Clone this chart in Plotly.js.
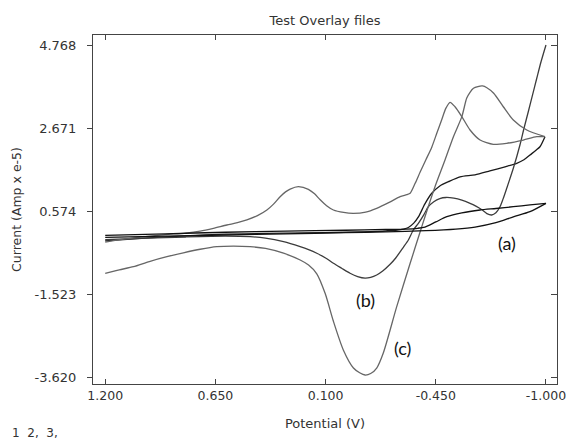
<!DOCTYPE html>
<html>
<head>
<meta charset="utf-8">
<script src="https://cdn.plot.ly/plotly-3.0.1.min.js"></script>
<style>html,body{margin:0;padding:0;background:#fff;}#chart{width:566px;height:440px;}</style>
</head>
<body>
<div id="chart"></div>
<script>
// Tick labels
const xTickVals = [1.2, 0.65, 0.1, -0.45, -1.0];
const xTickText = ['1.200', '0.650', '0.100', '-0.450', '-1.000'];
const yTickVals = [4.768, 2.671, 0.574, -1.523, -3.62];
const yTickText = ['4.768', '2.671', '0.574', '-1.523', '-3.620'];

// Curve (c): negative-going scan (1.2 V -> -1.0 V)
const cFwdV = [1.2, 1.1, 1.0, 0.9, 0.8, 0.726, 0.66, 0.593, 0.54, 0.493, 0.44, 0.393, 0.36, 0.327, 0.3, 0.277, 0.236, 0.186, 0.155, 0.127, 0.095, 0.061, 0.01, -0.039, -0.1, -0.155, -0.22, -0.272, -0.305, -0.322, -0.347, -0.372, -0.40, -0.43, -0.455, -0.48, -0.50, -0.521, -0.546, -0.58, -0.621, -0.671, -0.737, -0.804, -0.887, -0.954, -0.995];
const cFwdI = [-0.20, -0.12, -0.06, -0.01, 0.03, 0.08, 0.15, 0.233, 0.29, 0.36, 0.47, 0.612, 0.76, 0.948, 1.07, 1.14, 1.20, 1.135, 1.02, 0.87, 0.72, 0.612, 0.55, 0.528, 0.56, 0.655, 0.81, 0.948, 1.0, 1.034, 1.286, 1.57, 1.875, 2.2, 2.55, 2.9, 3.18, 3.333, 3.22, 2.97, 2.633, 2.38, 2.27, 2.297, 2.38, 2.464, 2.464];
// Curve (c): return scan (-1.0 V -> 1.2 V)
const cRevV = [-0.995, -0.904, -0.837, -0.787, -0.739, -0.705, -0.683, -0.66, -0.638, -0.62, -0.604, -0.58, -0.538, -0.496, -0.446, -0.396, -0.37, -0.322, -0.255, -0.188, -0.155, -0.125, -0.097, -0.07, -0.039, 0.011, 0.061, 0.102, 0.144, 0.185, 0.227, 0.31, 0.4, 0.477, 0.56, 0.643, 0.726, 0.81, 0.892, 0.98, 1.059, 1.13, 1.2];
const cRevI = [2.464, 2.633, 2.886, 3.22, 3.56, 3.70, 3.745, 3.73, 3.687, 3.58, 3.434, 2.97, 2.464, 1.875, 1.2, 0.443, 0.03, -0.735, -1.83, -3.0, -3.38, -3.52, -3.557, -3.5, -3.38, -2.93, -2.2, -1.5, -1.0, -0.78, -0.652, -0.48, -0.36, -0.315, -0.30, -0.315, -0.38, -0.47, -0.568, -0.69, -0.82, -0.90, -0.987];

// Curve (b): branch from -1.0 V back to 1.2 V
const bRevV = [-1.0, -0.975, -0.954, -0.933, -0.912, -0.89, -0.87, -0.837, -0.804, -0.785, -0.771, -0.75, -0.729, -0.705, -0.68, -0.65, -0.621, -0.58, -0.54, -0.501, -0.47, -0.44, -0.413, -0.39, -0.363, -0.338, -0.313, -0.288, -0.25, -0.222, -0.185, -0.155, -0.125, -0.097, -0.06, -0.022, 0.02, 0.061, 0.10, 0.144, 0.185, 0.227, 0.31, 0.4, 0.477, 0.6, 0.8, 1.0, 1.2];
const bRevI = [4.78, 4.35, 3.94, 3.52, 3.10, 2.67, 2.254, 1.665, 1.16, 0.88, 0.70, 0.54, 0.486, 0.52, 0.62, 0.71, 0.78, 0.86, 0.91, 0.928, 0.90, 0.82, 0.695, 0.49, 0.275, 0.107, -0.146, -0.33, -0.60, -0.76, -0.93, -1.03, -1.09, -1.11, -1.07, -0.986, -0.86, -0.735, -0.60, -0.48, -0.39, -0.315, -0.189, -0.10, -0.063, -0.05, -0.07, -0.10, -0.14];
// Curve (b): branch from 1.2 V to -1.0 V
const bFwdV = [1.2, 1.0, 0.8, 0.6, 0.4, 0.2, 0.0, -0.15, -0.25, -0.29, -0.313, -0.34, -0.364, -0.395, -0.43, -0.47, -0.513, -0.571, -0.646, -0.72, -0.8, -0.854, -0.89, -0.92, -0.95, -0.97, -0.995];
const bFwdI = [-0.17, -0.10, -0.04, 0.0, 0.02, 0.035, 0.05, 0.07, 0.10, 0.13, 0.17, 0.28, 0.443, 0.76, 1.034, 1.22, 1.327, 1.45, 1.50, 1.60, 1.71, 1.792, 1.88, 2.0, 2.12, 2.21, 2.464];

// Curve (a): blank loop
const aUpV = [1.2, 0.9, 0.6, 0.3, 0.0, -0.2, -0.3, -0.36, -0.396, -0.45, -0.505, -0.58, -0.671, -0.75, -0.837, -0.92, -1.0];
const aUpI = [-0.03, 0.01, 0.05, 0.08, 0.10, 0.12, 0.13, 0.15, 0.18, 0.31, 0.443, 0.54, 0.612, 0.65, 0.695, 0.74, 0.78];
const aLoV = [1.2, 0.9, 0.6, 0.3, 0.0, -0.2, -0.4, -0.55, -0.646, -0.75, -0.837, -0.92, -1.0];
const aLoI = [-0.08, -0.05, -0.02, 0.01, 0.04, 0.06, 0.09, 0.13, 0.18, 0.29, 0.44, 0.57, 0.78];

function branch(x, y, color, yaxis) {
  return {x: x, y: y, type: 'scatter', mode: 'lines', yaxis: yaxis || 'y',
    line: {color: color, width: 1.3, shape: 'spline', smoothing: 0.7},
    hoverinfo: 'skip', showlegend: false};
}

const data = [
  branch(aUpV, aUpI, '#111111', 'y2'),
  branch(aLoV, aLoI, '#111111', 'y2'),
  branch(bFwdV, bFwdI, '#1a1a1a'),
  branch(bRevV, bRevI, '#3c3c3c'),
  branch(cFwdV, cFwdI, '#666666'),
  branch(cRevV, cRevI, '#666666')
];

const FONT = 'DejaVu Sans, Verdana, sans-serif';
const yRange = [-3.784, 5.033];
const layout = {
  width: 566, height: 440,
  margin: {l: 93, r: 9, t: 35, b: 56, pad: 0},
  paper_bgcolor: '#ffffff', plot_bgcolor: '#ffffff',
  font: {family: FONT, size: 13, color: '#333333'},
  showlegend: false,
  title: {text: 'Test Overlay files', font: {family: FONT, size: 13, color: '#333333'},
    xref: 'paper', x: 0.5, xanchor: 'center', yref: 'container', y: 1 - 20/440, yanchor: 'middle'},
  xaxis: {range: [1.261, -1.055], tickmode: 'array', tickvals: xTickVals, ticktext: xTickText,
    ticks: 'inside', ticklen: 5, tickcolor: '#444', tickwidth: 1, ticklabeloverflow: 'allow',
    tickfont: {family: FONT, size: 12.5, color: '#333'},
    showline: true, linecolor: '#444', linewidth: 1, mirror: 'ticks',
    showgrid: false, zeroline: false,
    title: {text: 'Potential (V)', font: {family: FONT, size: 13}, standoff: 16}},
  yaxis: {range: yRange, tickmode: 'array', tickvals: yTickVals, ticktext: yTickText,
    ticks: 'outside', ticklen: 5, tickcolor: '#444', tickwidth: 1, ticklabelstandoff: 8,
    tickfont: {family: FONT, size: 13, color: '#333'},
    showline: true, linecolor: '#444', linewidth: 1, mirror: true,
    showgrid: false, zeroline: false,
    title: {text: 'Current (Amp x e-5)', font: {family: FONT, size: 12.5}, standoff: 10}},
  yaxis2: {range: yRange, overlaying: 'y', side: 'right', tickmode: 'array', tickvals: yTickVals,
    ticks: 'inside', ticklen: 6, tickcolor: '#444', tickwidth: 1, showticklabels: false,
    showline: false, showgrid: false, zeroline: false},
  annotations: [
    {text: '(a)', x: -0.806, y: -0.222, xref: 'x', yref: 'y', showarrow: false,
      font: {family: 'Lato, Open Sans, sans-serif', size: 18, color: '#111'}},
    {text: '(b)', x: -0.097, y: -1.662, xref: 'x', yref: 'y', showarrow: false,
      font: {family: 'Lato, Open Sans, sans-serif', size: 18, color: '#111'}},
    {text: '(c)', x: -0.285, y: -2.875, xref: 'x', yref: 'y', showarrow: false,
      font: {family: 'Lato, Open Sans, sans-serif', size: 18, color: '#111'}},
    {text: '1  2,  3,', xref: 'paper', yref: 'paper', x: -0.179, y: -0.14, xanchor: 'left', yanchor: 'middle',
      showarrow: false, font: {family: FONT, size: 12, color: '#333'}}
  ]
};

Plotly.newPlot('chart', data, layout, {displayModeBar: false, staticPlot: true});
</script>
</body>
</html>
